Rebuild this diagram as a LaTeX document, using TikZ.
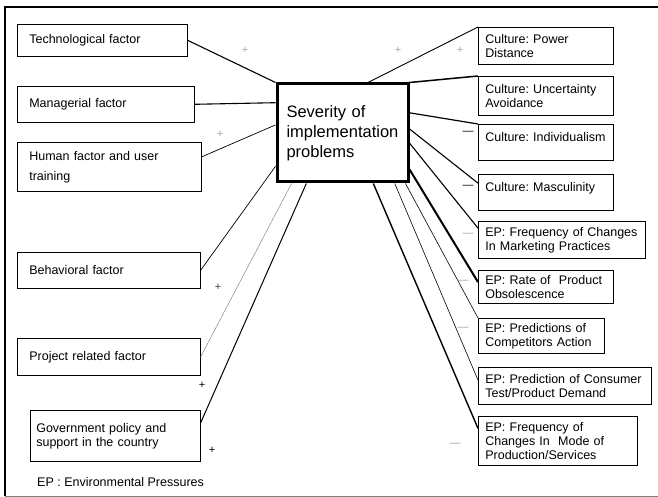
\documentclass[tikz,border=0pt]{standalone}
\usepackage{fontspec}
\setmainfont{Liberation Sans}
\usetikzlibrary{calc}
\frenchspacing

\tikzset{
  lbox/.style={draw, line width=0.6pt, anchor=north west, inner xsep=12pt, inner ysep=3pt,
    align=left, font=\fontsize{12.5}{14}\selectfont},
  rbox/.style={lbox, inner xsep=7pt},
  sevbox/.style={draw, line width=3pt, minimum width=131pt,
    minimum height=98pt, text width=112pt, align=left, font=\fontsize{16.5}{20}\selectfont},
  sign/.style={inner sep=0pt, font=\fontsize{11}{11}\selectfont},
}

\begin{document}
\begin{tikzpicture}[x=1pt, y=-1pt]
  \useasboundingbox (0,0) rectangle (658,497);
  % frame
  \draw[line width=1.2pt] (5,496) -- (5,7) -- (658,7);
  \draw[black!50, line width=1pt] (5,496) -- (658,496);

  % central box
  \node[sevbox] (sev) at (342.5,133) {Severity of\\implementation\\problems};

  % organisational factors
  \node[lbox, text width=146pt, minimum height=32pt] (tech) at (17,24) {Technological factor};
  \node[lbox, text width=153pt, minimum height=36pt] (mgr) at (17,86) {Managerial factor};
  \node[lbox, text width=160pt, minimum height=49pt] (hum) at (17,142) {Human factor and user\\[6pt]training};
  \node[lbox, text width=159pt, minimum height=36pt] (beh) at (17,252) {Behavioral factor};
  \node[lbox, text width=159pt, minimum height=37pt] (proj) at (17,338) {Project related factor};
  \node[lbox, inner xsep=6pt, text width=158pt, minimum height=51pt] (gov) at (30,410) {Government policy and\\support in the country};

  % culture and environmental pressures
  \node[rbox, text width=121pt, minimum height=37pt] (pd) at (478,27) {Culture: Power\\Distance};
  \node[rbox, text width=121pt, minimum height=39pt] (ua) at (478,76) {Culture: Uncertainty\\Avoidance};
  \node[rbox, text width=121pt, minimum height=36pt, text depth=11pt] (ind) at (478,124) {\mbox{Culture: Individualism}};
  \node[rbox, text width=121pt, minimum height=36pt, text depth=11pt] (mas) at (478,174) {Culture: Masculinity};
  \node[rbox, text width=153pt, minimum height=37pt] (mkt) at (478,221) {EP: Frequency of Changes\\In Marketing Practices};
  \node[rbox, text width=121pt, minimum height=33pt] (rate) at (478,270) {EP: Rate of~ Product\\Obsolescence};
  \node[rbox, text width=112pt, minimum height=35pt] (comp) at (478,318) {EP: Predictions of\\Competitors Action};
  \node[rbox, text width=159pt, minimum height=37pt] (cons) at (478,367) {EP: Prediction of Consumer\\Test/Product Demand};
  \node[rbox, text width=145pt, minimum height=49pt] (mode) at (478,416) {EP: Frequency of\\Changes In~ Mode of\\Production/Services};

  % heavier bottom and right edges
  \foreach \n in {tech,mgr,hum,beh,proj,gov,pd,ua,ind,mas,mkt,rate,comp,cons,mode}
    \draw[line width=1.5pt] (\n.north east) -- (\n.south east) -- (\n.south west);

  % links on the left
  \draw[line width=1.1pt] (tech.east) -- (sev.north west);
  \draw[line width=1.1pt] (mgr.east) -- ($(sev.north west)!0.2!(sev.south west)$);
  \draw[line width=0.7pt] ($(hum.north east)!0.3!(hum.south east)$) -- ($(sev.north west)!0.42!(sev.south west)$);
  \draw[line width=0.7pt] (beh.east) -- ($(sev.north west)!0.83!(sev.south west)$);
  \draw[black!55, line width=0.4pt] (proj.east) -- ($(sev.south west)!0.12!(sev.south east)$);
  \draw[line width=1pt] ($(gov.north east)!0.25!(gov.south east)$) -- ($(sev.south west)!0.23!(sev.south east)$);

  % links on the right
  \draw[line width=0.9pt] ($(sev.north west)!0.69!(sev.north east)$) -- (pd.north west);
  \draw[line width=1.5pt] (sev.north east) -- (ua.north west);
  \draw[line width=1.2pt] ($(sev.north east)!0.3!(sev.south east)$) -- (ind.north west);
  \draw[line width=1.1pt] ($(sev.north east)!0.46!(sev.south east)$) -- ($(mas.north west)!0.25!(mas.south west)$);
  \draw[line width=1.1pt] ($(sev.north east)!0.6!(sev.south east)$) -- ($(mkt.north west)!0.19!(mkt.south west)$);
  \draw[line width=2pt] ($(sev.north east)!0.86!(sev.south east)$) -- ($(rate.north west)!0.36!(rate.south west)$);
  \draw[line width=0.6pt] ($(sev.south west)!0.97!(sev.south east)$) -- (comp.north west);
  \draw[line width=0.6pt] ($(sev.south west)!0.89!(sev.south east)$) -- ($(cons.north west)!0.35!(cons.south west)$);
  \draw[line width=1.4pt] ($(sev.south west)!0.73!(sev.south east)$) -- ($(mode.north west)!0.25!(mode.south west)$);

  % signs
  \foreach \p/\s/\c [count=\i] in {{245,50}/+/black!35, {220,134}/+/black!35, {398,50}/+/black!35,
      {460,50}/+/black!35, {218,287}/+/black!75, {202,385}/+/black, {212,450}/+/black,
      {468,133}/---/black, {468,187}/---/black, {468,235}/---/black!35, {463,282}/---/black!35,
      {463,329}/---/black!35, {455,445}/---/black!35}
    \node[sign, text=\c] (s\i) at (\p) {\s};

  \node[anchor=west, inner sep=0pt, font=\fontsize{12.5}{14}\selectfont] (legend) at (37,482) {EP : Environmental Pressures};
\end{tikzpicture}
\end{document}
